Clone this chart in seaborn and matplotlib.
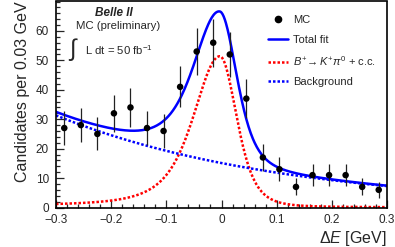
import numpy as np
import pandas as pd
import matplotlib
matplotlib.use("Agg")
import matplotlib.pyplot as plt
from matplotlib.lines import Line2D
from matplotlib.ticker import MultipleLocator
import seaborn as sns

# binned MC data (bin centres in GeV, candidates per 0.03 GeV)
delta_e = [-0.285, -0.255, -0.225, -0.195, -0.165, -0.135, -0.105, -0.075,
           -0.045, -0.015, 0.015, 0.045, 0.075, 0.105, 0.135, 0.165,
           0.195, 0.225, 0.255, 0.285]
counts = [27, 28, 25, 32, 34, 27, 26, 41, 53, 56, 52, 37, 17, 13, 7, 11,
          11, 11, 7, 6]
errors = [5.8, 5.9, 5.6, 6.3, 6.6, 5.8, 5.7, 7.0, 7.9, 8.2, 7.8, 6.6, 4.5,
          4.0, 2.9, 3.7, 3.7, 3.7, 2.9, 2.7]

# fit parameters
sig_peak = 51.4      # signal amplitude
sig_mean = -0.003    # signal peak position
sig_sigma_l, sig_alpha_l = 0.045, 0.22
sig_sigma_r, sig_alpha_r = 0.029, 0.15
bkg_at_lo = 31.3     # background at -0.3 GeV
bkg_slope = 2.43     # exponential slope

x_lo, x_hi = -0.3, 0.3
xtick_vals = [-0.3, -0.2, -0.1, 0.0, 0.1, 0.2, 0.3]
xtick_labels = ["\u22120.3", "\u22120.2", "\u22120.1", "0", "0.1", "0.2", "0.3"]
ytick_vals = [0, 10, 20, 30, 40, 50, 60]


def signal(x):
    d = x - sig_mean
    s = np.where(d < 0, sig_sigma_l, sig_sigma_r)
    a = np.where(d < 0, sig_alpha_l, sig_alpha_r)
    return sig_peak * np.exp(-d**2 / (2 * s**2 + a * d**2))


def background(x):
    return bkg_at_lo * np.exp(-bkg_slope * (x - x_lo))


xs = np.linspace(x_lo, x_hi, 601)
curves = pd.DataFrame({"x": xs, "sig": signal(xs), "bkg": background(xs)})
curves["tot"] = curves["sig"] + curves["bkg"]

sns.set_style("ticks")
plt.rcParams["font.family"] = ["Liberation Sans", "DejaVu Sans"]
plt.rcParams["mathtext.fontset"] = "custom"
plt.rcParams["mathtext.rm"] = "Liberation Sans"
plt.rcParams["mathtext.it"] = "Liberation Sans:italic"
plt.rcParams["mathtext.bf"] = "Liberation Sans:bold"

fig = plt.figure(figsize=(3.95, 2.47), dpi=100)
ax = fig.add_axes([56 / 395, 1 - 207.5 / 247, 331 / 395, 206 / 247])

dot = (0, (1.0, 0.8))
sns.lineplot(data=curves, x="x", y="sig", ax=ax, color="#ff0000", lw=1.8,
             linestyle=dot)
sns.lineplot(data=curves, x="x", y="bkg", ax=ax, color="#0000ff", lw=1.8,
             linestyle=dot)
sns.lineplot(data=curves, x="x", y="tot", ax=ax, color="#0000ff", lw=1.8)
ax.errorbar(delta_e, counts, yerr=errors, fmt="none", ecolor="#222222",
            elinewidth=0.9, zorder=4)
sns.scatterplot(x=delta_e, y=counts, ax=ax, color="black", s=22,
                edgecolor="none", zorder=5)

ax.set_xlim(x_lo, x_hi)
ax.set_ylim(0, 70)
ax.set_xticks(xtick_vals)
ax.set_xticklabels(xtick_labels)
ax.set_yticks(ytick_vals)
ax.xaxis.set_minor_locator(MultipleLocator(0.02))
ax.yaxis.set_minor_locator(MultipleLocator(2))
ax.tick_params(which="both", direction="in", labelsize=8.5, width=0.9)
ax.tick_params(which="major", length=6)
ax.tick_params(which="minor", length=3)
ax.tick_params(axis="x", pad=5)
ax.tick_params(axis="y", pad=5)
for sp in ax.spines.values():
    sp.set_linewidth(1.2)
    sp.set_color("black")

ax.set_xlabel(r"$\Delta E$ [GeV]", fontsize=11.5, loc="right", labelpad=2)
ax.set_ylabel("Candidates per 0.03 GeV", fontsize=11.5, loc="top", labelpad=4)

ax.text(0.175, 0.946, "Belle II", transform=ax.transAxes, fontsize=8.5,
        fontweight="bold", fontstyle="italic", ha="center", va="center")
ax.text(0.187, 0.881, "MC (preliminary)", transform=ax.transAxes, fontsize=8.2,
        ha="center", va="center")
ax.text(0.052, 0.765, r"$\int$", transform=ax.transAxes, fontsize=17,
        ha="center", va="center", family=["DejaVu Sans"])
ax.text(0.088, 0.765, "L dt = 50 fb$^{-1}$", transform=ax.transAxes,
        fontsize=8.2, ha="left", va="center")

handles = [
    Line2D([], [], color="black", marker="o", markersize=4.5, linestyle="none"),
    Line2D([], [], color="#0000ff", lw=1.8),
    Line2D([], [], color="#ff0000", lw=1.8, linestyle=dot),
    Line2D([], [], color="#0000ff", lw=1.8, linestyle=dot),
]
labels = ["MC", "Total fit", r"$B^{+}\!\rightarrow K^{+}\pi^{0}$ + c.c.",
          "Background"]
ax.legend(handles, labels, loc="upper left", bbox_to_anchor=(0.628, 0.955),
          frameon=False, fontsize=8, handlelength=1.8, handletextpad=0.4,
          labelspacing=0.85, borderaxespad=0)

fig.savefig("out.png", dpi=100)
